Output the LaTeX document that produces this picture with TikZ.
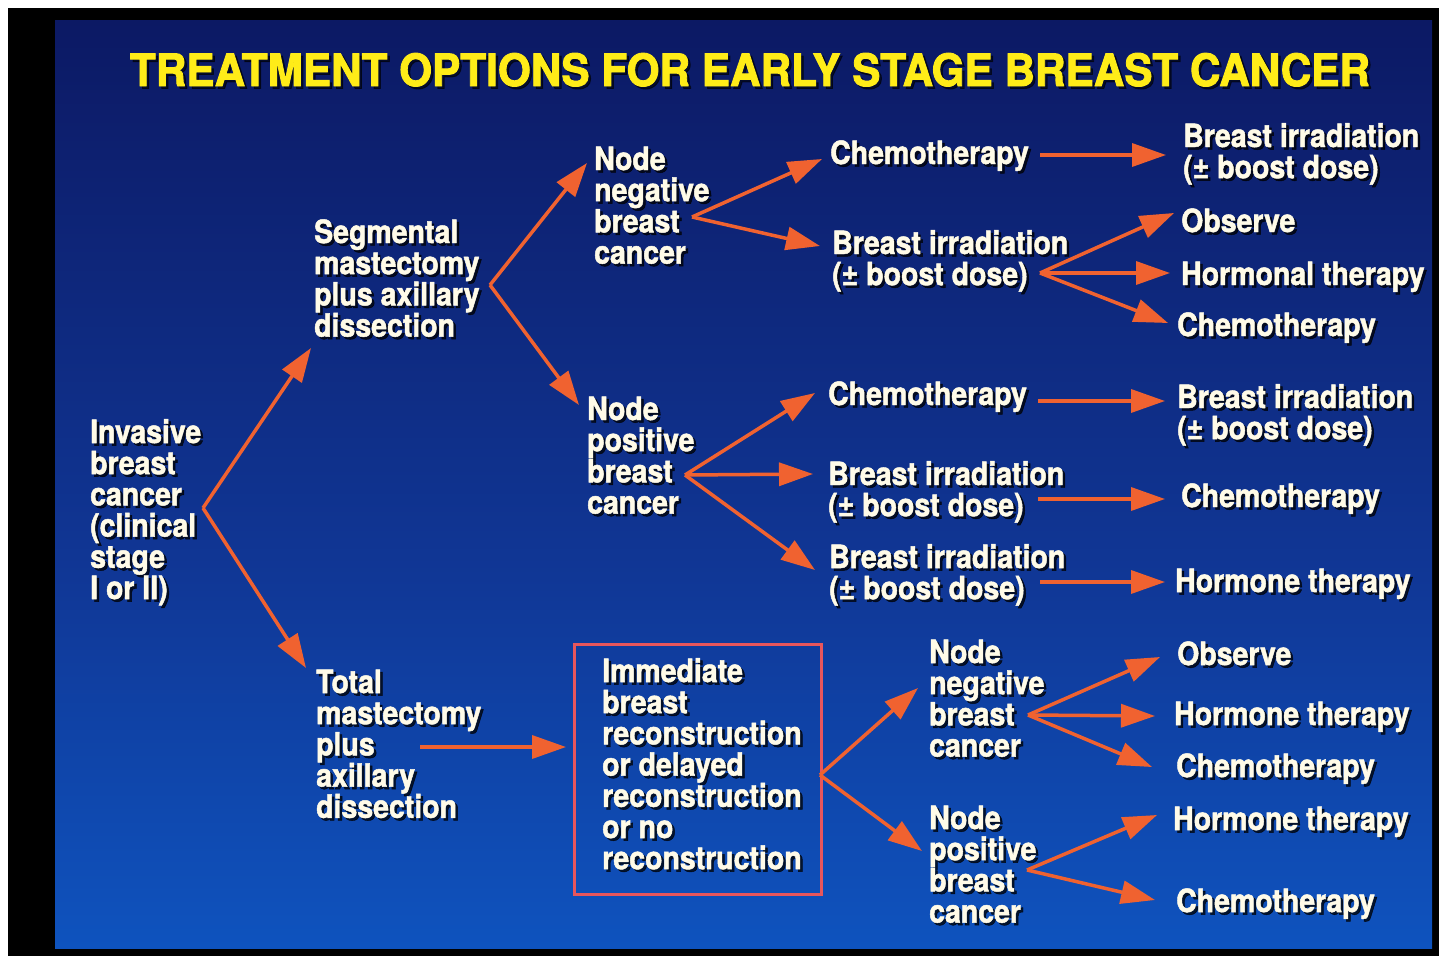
\documentclass[tikz,border=0pt]{standalone}
\usepackage{fontspec}
\usetikzlibrary{arrows.meta}
\newfontfamily\slidefont{TeX Gyre Heros}[BoldFeatures={FakeStretch=0.89,FakeBold=1.5}]
\newfontfamily\titlefont{TeX Gyre Heros}[BoldFeatures={FakeBold=2}]
\definecolor{bgtop}{RGB}{8,10,62}
\definecolor{bgup}{RGB}{12,25,100}
\definecolor{bgmid}{RGB}{16,55,150}
\definecolor{bglow}{RGB}{14,90,200}
\definecolor{bgbot}{RGB}{10,112,222}
\definecolor{txt}{RGB}{255,251,232}
\definecolor{ttl}{RGB}{255,236,24}
\definecolor{arrcol}{RGB}{240,98,48}
\definecolor{boxred}{RGB}{232,86,92}
\pgfdeclareverticalshading{slidebg}{100bp}{color(0bp)=(bgbot); color(20bp)=(bglow); color(45bp)=(bgmid); color(75bp)=(bgup); color(100bp)=(bgtop)}
\tikzset{
  lbl/.style={anchor=base west, inner sep=0pt, align=left, text=txt,
    font=\slidefont\bfseries\fontsize{32}{31.2}\selectfont},
  lblsh/.style={lbl, text=black, text opacity=0.75, xshift=2.5pt, yshift=-2.5pt},
  arr/.style={draw=arrcol, line width=3.5pt, -{Triangle[length=34pt,width=23pt]}},
}
% #1 name, #2 x, #3 baseline of first line, #4 number of lines, #5 text
\newcommand\lbl[5]{\node[lblsh] (#1-sh) at (#2,{#3+(#4-1)*31.2}) {#5};\node[lbl] (#1) at (#2,{#3+(#4-1)*31.2}) {#5};}
\begin{document}
\begin{tikzpicture}[x=1pt,y=-1pt]
\useasboundingbox (0,0) rectangle (1439,961);
\fill[white] (0,0) rectangle (1439,961);
\fill[black] (8,8) rectangle (1439,956);
\shade[shading=slidebg] (55,20) rectangle (1432,948);
% title
\node[inner sep=0pt, anchor=base, text=black, text opacity=0.6] (title-sh) at (752.5,88.5)
  {\resizebox{1240pt}{33pt}{\titlefont\bfseries TREATMENT OPTIONS FOR EARLY STAGE BREAST CANCER}};
\node[inner sep=0pt, anchor=base, text=ttl] (title) at (750,86)
  {\resizebox{1240pt}{33pt}{\titlefont\bfseries TREATMENT OPTIONS FOR EARLY STAGE BREAST CANCER}};
% box
\node[draw=boxred, line width=3pt, anchor=north west, minimum width=247pt, minimum height=250pt, inner sep=0pt] (box) at (573,643) {};
% labels
\lbl{inv}{90}{443}{6}{Invasive\\breast\\cancer\\(clinical\\stage\\I or II)}
\lbl{seg}{314}{243}{4}{Segmental\\mastectomy\\plus axillary\\dissection}
\lbl{nn1}{594}{170}{4}{Node\\negative\\breast\\cancer}
\lbl{np1}{587}{420}{4}{Node\\positive\\breast\\cancer}
\lbl{c1}{830}{164}{1}{Chemotherapy}
\lbl{bi1}{832}{254}{2}{Breast irradiation\\(± boost dose)}
\lbl{bi1r}{1183}{147}{2}{Breast irradiation\\(± boost dose)}
\lbl{obs1}{1181}{232}{1}{Observe}
\lbl{hor1}{1181}{285}{1}{Hormonal therapy}
\lbl{ch1}{1177}{336}{1}{Chemotherapy}
\lbl{c2}{828}{405}{1}{Chemotherapy}
\lbl{bi2}{828}{485}{2}{Breast irradiation\\(± boost dose)}
\lbl{bi3}{829}{568}{2}{Breast irradiation\\(± boost dose)}
\lbl{bi2r}{1177}{408}{2}{Breast irradiation\\(± boost dose)}
\lbl{ch2}{1181}{507}{1}{Chemotherapy}
\lbl{hor2}{1175}{592}{1}{Hormone therapy}
\lbl{tot}{316}{693}{5}{Total\\mastectomy\\plus\\axillary\\dissection}
\lbl{rec}{602}{682}{7}{Immediate\\breast\\reconstruction\\or delayed\\reconstruction\\or no\\reconstruction}
\lbl{nn2}{929}{663}{4}{Node\\negative\\breast\\cancer}
\lbl{np2}{929}{829}{4}{Node\\positive\\breast\\cancer}
\lbl{obs2}{1177}{665}{1}{Observe}
\lbl{hor3}{1174}{725}{1}{Hormone therapy}
\lbl{ch3}{1176}{777}{1}{Chemotherapy}
\lbl{hor4}{1173}{830}{1}{Hormone therapy}
\lbl{ch4}{1176}{912}{1}{Chemotherapy}
% junctions and tips
\coordinate (jA) at (203,508);
\coordinate (jB) at (490,285);
\coordinate (jC) at (692,217);
\coordinate (jD) at (1040,273);
\coordinate (jE) at (685,475);
\coordinate (jF) at (820,775);
\coordinate (jG) at (1028,715);
\coordinate (jH) at (1027,870);
\coordinate (tSeg) at (311,348);
\coordinate (tTot) at (306,668);
\coordinate (tNN1) at (587,163);
\coordinate (tNP1) at (579,405);
\coordinate (tC1) at (822,159);
\coordinate (tBI1) at (820,246);
\coordinate (sC1) at (1040,155);
\coordinate (tBI1r) at (1166,155);
\coordinate (tObs1) at (1174,213);
\coordinate (tHor1) at (1170,273);
\coordinate (tCh1) at (1168,323);
\coordinate (tC2) at (815,393);
\coordinate (tBI2) at (813,474);
\coordinate (tBI3) at (815,570);
\coordinate (sC2) at (1038,401);
\coordinate (tBI2r) at (1165,401);
\coordinate (sBI2) at (1038,499);
\coordinate (tCh2) at (1165,499);
\coordinate (sBI3) at (1040,582);
\coordinate (tHor2) at (1165,582);
\coordinate (sTot) at (420,747);
\coordinate (tBox) at (566,747);
\coordinate (tNN2) at (918,688);
\coordinate (tNP2) at (922,851);
\coordinate (tObs2) at (1160,657);
\coordinate (tHor3) at (1155,716);
\coordinate (tCh3) at (1152,767);
\coordinate (tHor4) at (1157,815);
\coordinate (tCh4) at (1155,900);
% arrows
\draw[arr] (jA) -- (tSeg);
\draw[arr] (jA) -- (tTot);
\draw[arr] (jB) -- (tNN1);
\draw[arr] (jB) -- (tNP1);
\draw[arr] (jC) -- (tC1);
\draw[arr] (jC) -- (tBI1);
\draw[arr] (sC1) -- (tBI1r);
\draw[arr] (jD) -- (tObs1);
\draw[arr] (jD) -- (tHor1);
\draw[arr] (jD) -- (tCh1);
\draw[arr] (jE) -- (tC2);
\draw[arr] (jE) -- (tBI2);
\draw[arr] (jE) -- (tBI3);
\draw[arr] (sC2) -- (tBI2r);
\draw[arr] (sBI2) -- (tCh2);
\draw[arr] (sBI3) -- (tHor2);
\draw[arr] (sTot) -- (tBox);
\draw[arr] (jF) -- (tNN2);
\draw[arr] (jF) -- (tNP2);
\draw[arr] (jG) -- (tObs2);
\draw[arr] (jG) -- (tHor3);
\draw[arr] (jG) -- (tCh3);
\draw[arr] (jH) -- (tHor4);
\draw[arr] (jH) -- (tCh4);
\end{tikzpicture}
\end{document}
